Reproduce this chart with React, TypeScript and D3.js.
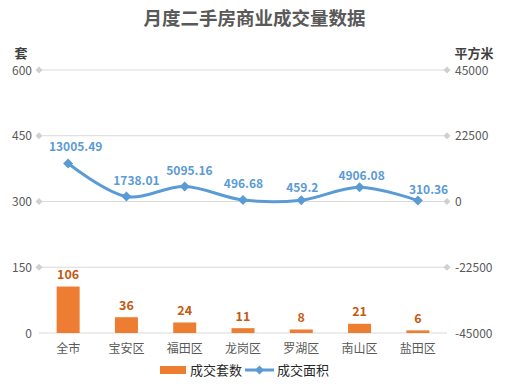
import React from "react";
import * as d3 from "d3";

const categories = ["全市", "宝安区", "福田区", "龙岗区", "罗湖区", "南山区", "盐田区"];
const countValues = [106, 36, 24, 11, 8, 21, 6];
const areaValues = [13005.49, 1738.01, 5095.16, 496.68, 459.2, 4906.08, 310.36];
const leftTicks = [0, 150, 300, 450, 600];
const rightTicks = [-45000, -22500, 0, 22500, 45000];
const areaLabels = ["13005.49", "1738.01", "5095.16", "496.68", "459.2", "4906.08", "310.36"];
const labelDx = [7.5, 10, 4.7, 0.5, 1, 2, 10.7];
const labelDy = [-12.5, -11.5, -12, -12, -8.5, -7, -7];

const W = 508;
const H = 384;
const M = { left: 39, right: 447, top: 70, bottom: 333 };
const FONT = "'Noto Sans CJK SC', 'Noto Sans', sans-serif";

export default function App() {
  const xc = d3.scalePoint<string>().domain(categories).range([M.left, M.right]).padding(0.5);
  const yL = d3.scaleLinear().domain([0, 600]).range([M.bottom, M.top]);
  const yR = d3.scaleLinear().domain([-45000, 45000]).range([M.bottom, M.top]);
  const bw = 23;
  const line = d3
    .line<number>()
    .x((_, i) => xc(categories[i])!)
    .y((d) => yR(d))
    .curve(d3.curveCatmullRom.alpha(0.5));
  const diamond = (cx: number, cy: number, r: number) =>
    `M${cx},${cy - r}L${cx + r},${cy}L${cx},${cy + r}L${cx - r},${cy}Z`;

  return (
    <svg width={W} height={H} style={{ display: "block", position: "absolute", left: 0, top: 0 }} fontFamily={FONT}>
      <rect width={W} height={H} fill="#fff" />
      <text x={W / 2 + 0.5} y={25} textAnchor="middle" fontSize={18.5} fontWeight="bold" fill="#595959">
        月度二手房商业成交量数据
      </text>
      <text x={21} y={58} textAnchor="middle" fontSize={13} fontWeight="bold" fill="#404040">套</text>
      <text x={474} y={58} textAnchor="middle" fontSize={13} fontWeight="bold" fill="#404040">平方米</text>
      {leftTicks.map((t) => (
        <g key={t}>
          <line x1={M.left} x2={M.right} y1={yL(t)} y2={yL(t)} stroke="#d9d9d9" strokeWidth={1} />
          {t !== 0 && <path d={diamond(M.left, yL(t), 3.5)} fill="#d0d0d0" />}
          <text x={32} y={yL(t) + 4.5} textAnchor="end" fontSize={12} fill="#595959">{t}</text>
        </g>
      ))}
      {rightTicks.map((t) => (
        <g key={t}>
          {t !== -45000 && <path d={diamond(M.right, yR(t), 3.5)} fill="#d0d0d0" />}
          <text x={455} y={yR(t) + 4.5} textAnchor="start" fontSize={12} fill="#595959">{t}</text>
        </g>
      ))}
      {categories.map((c, i) => (
        <g key={c}>
          <rect x={xc(c)! - bw / 2} y={yL(countValues[i])} width={bw} height={yL(0) - yL(countValues[i])} fill="#ED7D31" />
          <text x={xc(c)} y={yL(countValues[i]) - 7.5} textAnchor="middle" fontSize={12.5} fontWeight="bold" fill="#C55A11">
            {countValues[i]}
          </text>
          <text x={xc(c)} y={353} textAnchor="middle" fontSize={12} fill="#595959">{c}</text>
        </g>
      ))}
      <path d={line(areaValues) || ""} fill="none" stroke="#5B9BD5" strokeWidth={3} strokeLinecap="round" />
      {categories.map((c, i) => (
        <g key={"p" + c}>
          <path d={diamond(xc(c)!, yR(areaValues[i]), 5)} fill="#5B9BD5" />
          <text
            x={xc(c)! + labelDx[i]}
            y={yR(areaValues[i]) + labelDy[i]}
            textAnchor="middle"
            fontSize={12}
            fontWeight="bold"
            fill="#5B9BD5"
          >
            {areaLabels[i]}
          </text>
        </g>
      ))}
      <g>
        <rect x={160} y={366} width={26} height={8} fill="#ED7D31" />
        <text x={190} y={375} fontSize={13} fill="#262626">成交套数</text>
        <line x1={245} x2={274} y1={370} y2={370} stroke="#5B9BD5" strokeWidth={3} />
        <path d={diamond(259.5, 370, 4.5)} fill="#5B9BD5" />
        <text x={277} y={375} fontSize={13} fill="#262626">成交面积</text>
      </g>
    </svg>
  );
}
